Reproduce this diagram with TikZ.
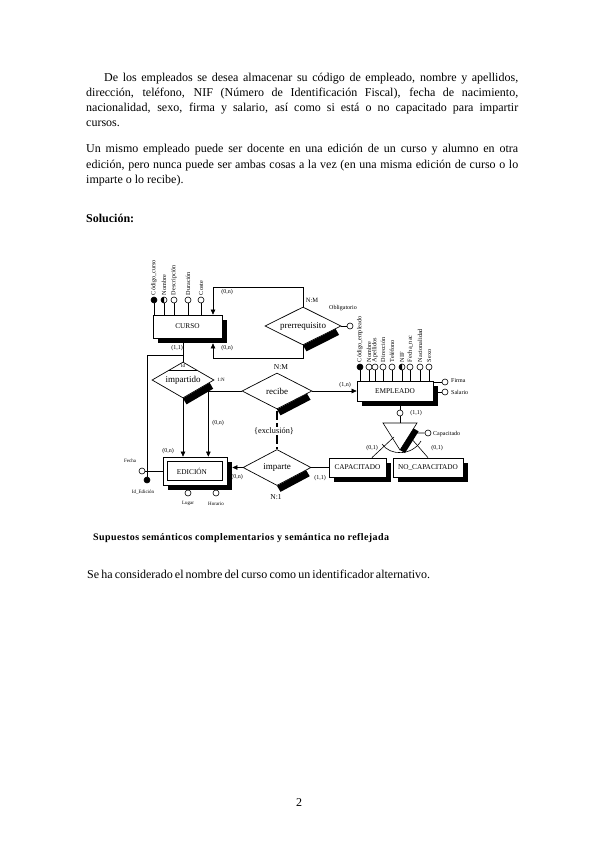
\documentclass[tikz,border=0pt]{standalone}
\usepackage{fontspec}
\setmainfont{Liberation Serif}
\usetikzlibrary{shapes.geometric,arrows.meta,calc,shadows}
\newcommand{\fsz}[1]{\fontsize{#1}{#1}\selectfont}

\begin{document}
\begin{tikzpicture}[x=1pt,y=-1pt,
    every node/.style={inner sep=0pt},
    body/.style={anchor=base west,font=\fsz{12}},
    entity/.style={draw,fill=white,line width=0.7pt,font=\fsz{7.3},
      drop shadow={shadow xshift=5pt,shadow yshift=-5pt,fill=black,opacity=1}},
    rel/.style={diamond,draw,fill=white,line width=0.7pt,shape aspect=2,font=\fsz{9}},
    attr/.style={circle,draw,fill=white,line width=0.6pt,minimum size=6pt},
    lbl/.style={font=\fsz{6}},
    vlbl/.style={font=\fsz{6.2},rotate=90,anchor=west},
    lnk/.style={line width=0.6pt},
    arr/.style={lnk,-{Triangle[length=5pt,width=4.5pt]}}]
  \useasboundingbox (0,0) rectangle (599,848);
  % Enunciado
  \node[body] (t1) at (104,82) {\makebox[414pt][s]{De los empleados se desea almacenar su código de empleado, nombre y apellidos,}};
  \node[body] (t2) at (86,97) {\makebox[432pt][s]{dirección, teléfono, NIF (Número de Identificación Fiscal), fecha de nacimiento,}};
  \node[body] (t3) at (86,112) {\makebox[432pt][s]{nacionalidad, sexo, firma y salario, así como si está o no capacitado para impartir}};
  \node[body] (t4) at (86,126) {cursos.};
  \node[body] (t5) at (86,153) {\makebox[432pt][s]{Un mismo empleado puede ser docente en una edición de un curso y alumno en otra}};
  \node[body] (t6) at (86,168) {\makebox[432pt][s]{edición, pero nunca puede ser ambas cosas a la vez (en una misma edición de curso o lo}};
  \node[body] (t7) at (86,183) {imparte o lo recibe).};
  \node[body,font=\fsz{12}\bfseries] (sol) at (86,222) {Solución:};

  % Entidades
  \node[entity,minimum width=69pt,minimum height=23pt] (curso) at (187.5,326.5) {CURSO};
  \node[entity,minimum width=76pt,minimum height=20pt] (empleado) at (395,391) {EMPLEADO};
  \node[entity,minimum width=64pt,minimum height=28pt] (edicion) at (195,471) {};
  \draw[lnk] ($(edicion.north west)+(5,5)$) rectangle ($(edicion.south east)+(-5,-5)$);
  \node[font=\fsz{7.3}] (edtxt) at (192,471) {EDICIÓN};
  \node[entity,minimum width=57pt,minimum height=19pt] (capacitado) at (357.5,467.5) {CAPACITADO};
  \node[entity,minimum width=70pt,minimum height=19pt] (nocap) at (428,467.5) {NO\_CAPACITADO};

  % Relaciones
  \node[rel,minimum width=76pt,minimum height=38pt] (prerreq) at (303,326) {prerrequisito};
  \node[rel,minimum width=62pt,minimum height=36pt] (impartido) at (183,380) {impartido};
  \node[rel,minimum width=70pt,minimum height=36pt] (recibe) at (277,391) {recibe};
  \node[rel,minimum width=68pt,minimum height=36pt] (imparte) at (277,467.5) {imparte};
  \foreach \d in {prerreq,impartido,recibe,imparte}
    \fill ($(\d.east)!0.15!(\d.south)$) -- (\d.south) -- ($(\d.south)+(3.5,6)$) -- ($(\d.east)!0.15!(\d.south)+(3.5,6)$) -- cycle;
  \draw[lnk] ($(impartido.north)!0.45!(impartido.west)$) -- ($(impartido.north)!0.45!(impartido.east)$);
  \node[font=\fsz{5}] (idm) at (183,366) {Id};

  % Atributos de CURSO
  \foreach \x/\n/\t in {154/ca1/Código\_curso,164/ca2/Nombre,174/ca3/Descripción,188/ca4/Duración,201/ca5/Coste}{
    \node[attr] (\n) at (\x,300) {};
    \draw[lnk] (\n) -- (\n |- curso.north);
    \node[vlbl] (l\n) at ($(\n.north)+(0,-1.5)$) {\t};
  }
  \fill (ca1) circle (3pt);
  \begin{scope}
    \clip ($(ca2)+(-4,-4)$) rectangle ($(ca2)+(0,4)$);
    \fill (ca2) circle (3pt);
  \end{scope}

  % Atributos de EMPLEADO
  \foreach \x/\n/\t in {360/ea1/Código\_empleado,369/ea2/Nombre,375/ea3/Apellidos,383/ea4/Dirección,392/ea5/Teléfono,402/ea6/NIF,410/ea7/Fecha\_nac,420/ea8/Nacionalidad,429/ea9/Sexo}{
    \node[attr] (\n) at (\x,367) {};
    \draw[lnk] (\n) -- (\n |- empleado.north);
    \node[vlbl] (l\n) at ($(\n.north)+(0,-1.5)$) {\t};
  }
  \fill (ea1) circle (3pt);
  \begin{scope}
    \clip ($(ea6)+(-4,-4)$) rectangle ($(ea6)+(0,4)$);
    \fill (ea6) circle (3pt);
  \end{scope}
  \node[attr] (firma) at (445,382) {};
  \node[attr] (salario) at (445,392) {};
  \draw[lnk] (empleado.east |- firma) -- (firma);
  \draw[lnk] (empleado.east |- salario) -- (salario);
  \node[lbl,anchor=west] (lfirma) at (451,381) {Firma};
  \node[lbl,anchor=west] (lsalario) at (451,392) {Salario};

  % prerrequisito
  \coordinate (sl1) at (213,287);
  \coordinate (sl2) at (213,358);
  \draw[arr] (prerreq.north) |- (sl1) -- (sl1 |- curso.north);
  \draw[arr] (prerreq.south) |- (sl2) -- ($(sl2 |- curso.south)+(0,5)$);
  \node[attr] (oblig) at (350,326) {};
  \draw[lnk] (prerreq.east) -- (oblig);
  \node[lbl] (loblig) at (343,308) {Obligatorio};
  \node[lbl] (c1) at (227,292) {(0,n)};
  \node[lbl] (c2) at (227,348) {(0,n)};
  \node[font=\fsz{6.5}] (nm1) at (312,300) {N:M};

  % impartido
  \coordinate (idl) at (147,355);
  \node[attr,fill=black] (idE) at (147,480) {};
  \draw[lnk] (curso.south -| impartido.north) -- (impartido.north);
  \draw[lnk] (impartido.north |- idl) -| (idE);
  \node[lbl] (c3) at (177,348) {(1,1)};
  \node[font=\fsz{5}] (n1) at (221,380) {1:N};
  \draw[arr] (impartido.south) -- (impartido.south |- edicion.north);
  \node[lbl] (c4) at (168,451) {(0,n)};

  % Atributos de EDICION
  \node[attr] (fecha) at (142,471) {};
  \draw[lnk] (fecha) -- (edicion.west);
  \node[font=\fsz{5}] (lfecha) at (130,461) {Fecha};
  \node[font=\fsz{5}] (lidE) at (143,492) {Id\_Edición};
  \node[attr] (lugar) at (188,493) {};
  \node[attr] (horario) at (216,493) {};
  \draw[lnk] (lugar |- edicion.south) -- (lugar);
  \draw[lnk] (horario |- edicion.south) -- (horario);
  \begin{scope}
    \clip (170,496) rectangle (240,505);
    \node[font=\fsz{5}] (llugar) at (188,503.5) {Lugar};
    \node[font=\fsz{5}] (lhorario) at (216,503.5) {Horario};
  \end{scope}

  % recibe
  \draw[arr] (recibe.west) -| ($(edicion.north east)+(-19,0)$);
  \node[lbl] (c5) at (218,423) {(0,n)};
  \draw[arr] (recibe.east) -- (empleado.west);
  \node[lbl] (c6) at (345,385) {(1,n)};
  \node[font=\fsz{7.5}] (nm2) at (281,367) {N:M};

  % exclusion
  \draw[line width=2.5pt,dash pattern=on 9pt off 3pt] ($(recibe.south)+(0,2)$) -- (imparte.north);
  \node[fill=white,inner sep=1pt,font=\fsz{8.3}] (excl) at (274,431) {\{exclusión\}};

  % imparte
  \coordinate (edR) at ($(edicion.east)+(5,0)$);
  \draw[arr] (imparte.west) -- (imparte.west -| edR);
  \draw[lnk] (capacitado.west) -- (imparte.east);
  \node[lbl] (c7) at (237,477) {(0,n)};
  \node[lbl] (c8) at (320,478) {(1,1)};
  \node[font=\fsz{7.5}] (n2) at (276,497) {N:1};

  % Especializacion
  \coordinate (triL) at (383,423);
  \coordinate (triR) at (417,423);
  \coordinate (triB) at (400,450);
  \coordinate (tri) at (400,423);
  \node[attr] (gen) at (400,413) {};
  \draw[lnk] (tri |- empleado.south) -- (gen);
  \draw[lnk] (gen) -- (tri);
  \node[lbl] (c9) at (416,413) {(1,1)};
  \draw[lnk,fill=white] (triL) -- (triR) -- (triB) -- cycle;
  \fill ($(triR)!0.2!(triB)$) -- (triB) -- ($(triB)+(5,3)$) -- ($(triR)!0.2!(triB)+(5,3)$) -- cycle;
  \node[attr] (capc) at (428,433) {};
  \draw[lnk] ($(triR)!0.37!(triB)$) -- (capc);
  \node[lbl,anchor=west] (lcapc) at (433,434) {Capacitado};
  \draw[lnk] (382,444) .. controls (390,456) and (412,456) .. (421,441);
  \coordinate (sl) at (394,437);
  \coordinate (sr) at (410,437);
  \draw[lnk] ($(capacitado.north)!0.5!(capacitado.north east)$) -- (sl);
  \draw[lnk] (nocap.north) -- (sr);
  \node[lbl] (c10) at (372,448) {(0,1)};
  \node[lbl] (c11) at (437,448) {(0,1)};

  % Pie
  \node[anchor=base west,font=\fsz{10}\bfseries\addfontfeatures{LetterSpace=4}] (sup) at (93,540) {Supuestos semánticos complementarios y semántica no reflejada};
  \node[body] (t8) at (87,578) {\makebox[343pt][s]{Se ha considerado el nombre del curso como un identificador alternativo.}};
  \node[font=\fsz{12}] (pag) at (299,803) {2};
\end{tikzpicture}
\end{document}
